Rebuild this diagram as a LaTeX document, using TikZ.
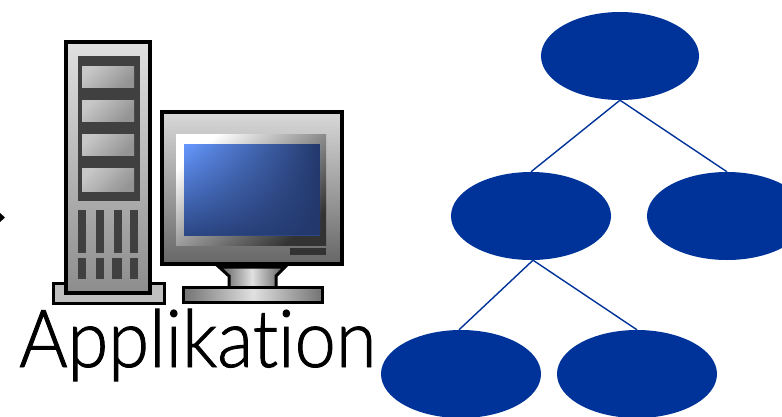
\documentclass[tikz,border=0pt]{standalone}
\usepackage{fontspec}
\setmainfont{Liberation Sans}
\newfontfamily\labelfont[Ligatures=NoCommon,FakeBold=1.2]{Lato Light}
\usetikzlibrary{fadings,shapes.geometric}
\definecolor{navy}{HTML}{003399}
\definecolor{slate}{HTML}{404040}
\definecolor{screenhi}{HTML}{6699FF}
\definecolor{screenlo}{HTML}{2C4785}
\definecolor{screendk}{HTML}{23386B}
\tikzset{
  blob/.style={ellipse,fill=navy,minimum width=160pt,minimum height=88pt,inner sep=0pt},
  link/.style={draw=navy,line width=1.4pt},
  casing/.style={draw=black,line width=4pt,miter limit=10},
  darkbit/.style={fill=slate},
  drive/.style={top color=black!22,bottom color=black!42,shading angle=45},
}
\tikzfading[name=fadeblue,left color=transparent!100,middle color=transparent!75,right color=transparent!0]
\begin{document}
\begin{tikzpicture}[x=1pt,y=-1pt]
\useasboundingbox (0,0) rectangle (782,416);
\begin{scope}
\clip (0,0) rectangle (782,416);
% tree
\node[blob,minimum width=158pt] (top) at (620,56) {};
\node[blob] (midl) at (531,216) {};
\node[blob] (midr) at (727,216) {};
\node[blob] (botl) at (461,374) {};
\node[blob] (botr) at (637,374) {};
\draw[link] (top.south) -- (midl.north);
\draw[link] (top.south) -- (midr.north);
\draw[link] ([xshift=2pt]midl.south) -- ([xshift=-2pt]botl.north);
\draw[link] ([xshift=2pt]midl.south) -- (botr.north);
% stub arrow
\fill (0,213) -- (5,217.5) -- (0,222) -- cycle;
% tower base
\draw[draw=black,line width=3pt,fill=black!25] (53.5,283.5) rectangle (164.5,303.5);
% tower
\draw[casing,top color=black!12,bottom color=black!45] (66,42) rectangle (150,293);
\fill[darkbit] (78,56) rectangle (140,201);
\foreach \a/\b in {66/87,100/121,134/155,168/191}
  \fill[drive] (82,\a) rectangle (134,\b);
\foreach \a/\b in {78/86,96/104,114/122,130/138}
  \fill[darkbit] (\a,210) rectangle (\b,253);
\foreach \a/\b in {78/86,96/104,112/122,130/138}
  \fill[darkbit] (\a,258) rectangle (\b,279);
% monitor stand
\draw[draw=black,line width=3pt,left color=black!65,right color=black!65,middle color=black!12]
  (219,267) -- (229,276) -- (229,288) -- (276,288) -- (276,276) -- (285,267) -- cycle;
\draw[draw=black,line width=3pt,left color=black!55,right color=black!55,middle color=black!12]
  (183.5,287.5) rectangle (322.5,302.5);
% monitor
\draw[casing,top color=black!15,bottom color=black!60] (162,112) rectangle (342,264);
\fill[top color=white,bottom color=black!80,middle color=black!42,shading angle=40] (176,134) rectangle (326,245);
\fill[top color=screenhi,bottom color=screenlo] (184,144) rectangle (320,235);
\fill[fill=screendk,path fading=fadeblue] (184,144) rectangle (320,235);
\fill[fill=black!80] (290,248) rectangle (326,255);
% label
\node[anchor=base west,inner sep=0pt,xscale=.925,font=\labelfont\fontsize{80}{80}\selectfont] (label) at (19,367) {Applikation};
\end{scope}
\end{tikzpicture}
\end{document}
